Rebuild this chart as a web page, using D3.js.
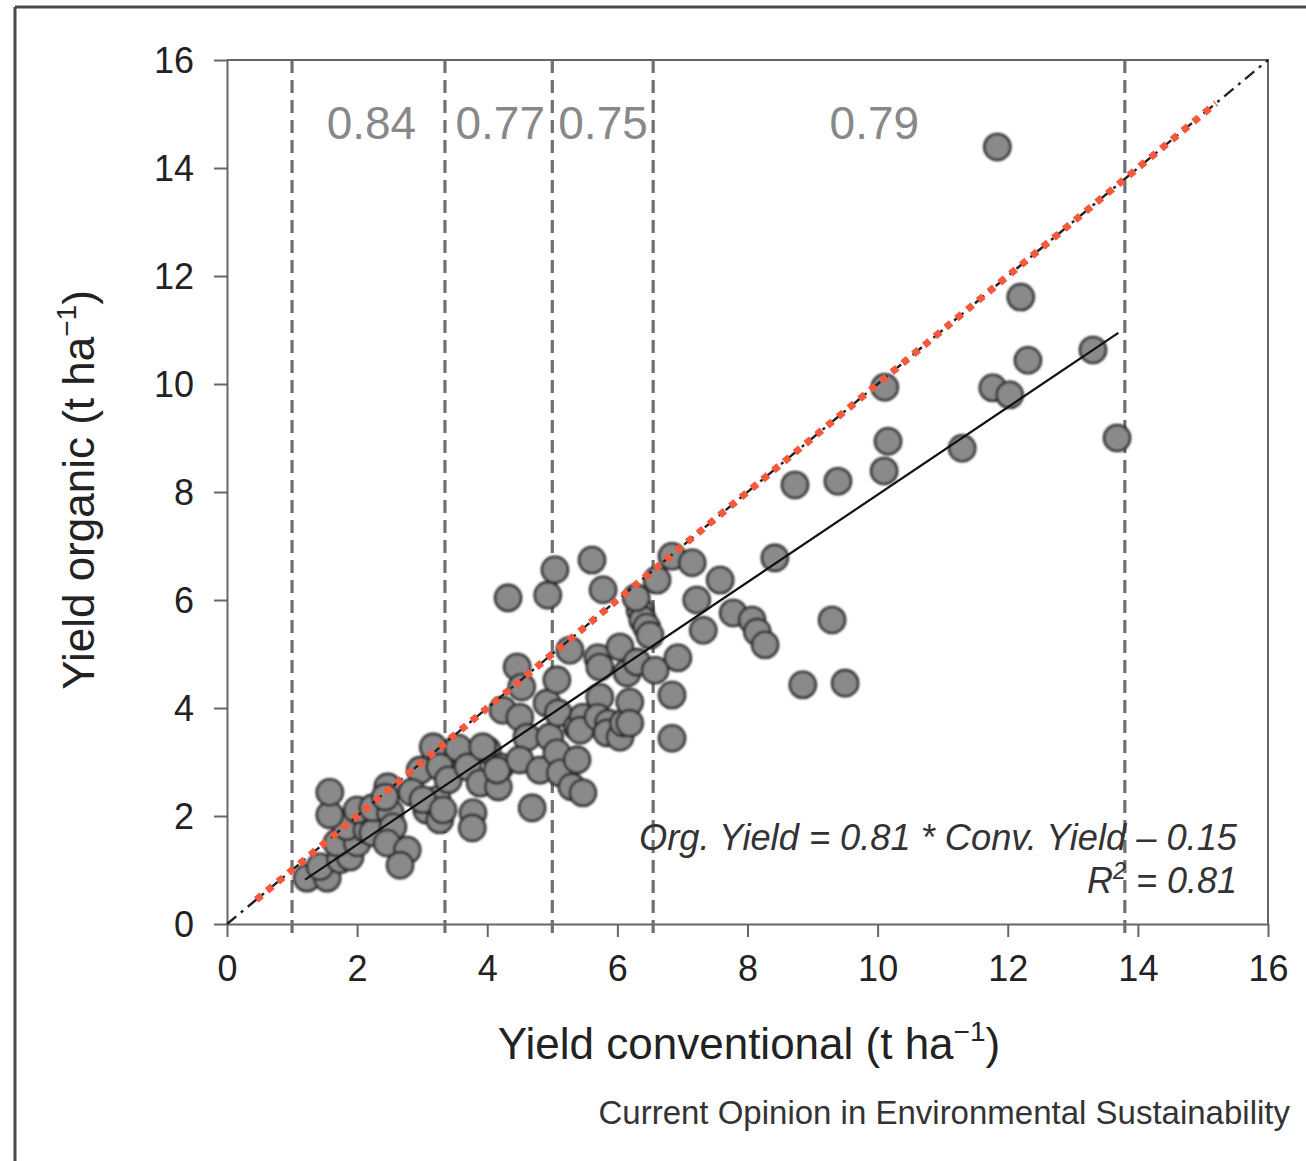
<!DOCTYPE html>
<html>
<head>
<meta charset="utf-8">
<script src="https://cdn.jsdelivr.net/npm/d3@7"></script>
<style>
  html, body { margin: 0; padding: 0; background: #fff; }
  svg { display: block; font-family: "Liberation Sans", Arial, Helvetica, sans-serif; }
</style>
</head>
<body>
<svg id="chart" width="1306" height="1161"></svg>
<script>
// ---- data ----
const conventional = [
  1.23,1.54,1.43,1.74,1.89,1.69,2.00,1.84,2.15,2.24,1.58,1.58,2.00,2.24,2.51,2.55,2.46,2.77,2.66,2.47,
  2.43,2.97,3.38,3.07,3.23,3.27,2.84,3.01,3.17,3.27,
  3.55,3.40,3.70,3.32,3.78,3.77,3.89,4.00,4.17,4.20,3.93,4.15,4.24,4.46,4.53,4.50,4.61,4.50,4.69,4.81,
  4.32,4.93,4.92,4.96,
  5.04,5.61,5.78,5.07,5.09,5.07,5.12,5.27,5.38,5.38,5.30,5.47,5.47,5.43,5.70,5.73,5.73,5.70,5.86,5.84,
  6.04,6.04,6.09,6.19,6.19,6.15,6.30,6.35,6.39,6.45,6.50,6.58,6.61,6.29,
  6.84,7.15,7.58,7.22,7.32,7.78,8.07,8.15,8.27,6.93,6.84,6.84,8.42,8.73,9.39,9.30,8.85,9.50,
  10.10,10.16,10.11,11.30,11.77,12.03,12.31,12.20,13.31,13.68,11.84
];
const organic = [
  0.85,0.85,1.06,1.19,1.24,1.50,1.50,1.80,1.74,1.69,2.02,2.44,2.11,2.15,2.06,1.80,1.50,1.37,1.09,2.54,
  2.35,2.85,2.80,2.11,2.30,1.93,2.44,2.30,3.28,2.91,
  3.26,2.67,2.91,2.11,2.06,1.78,2.61,3.22,2.54,2.91,3.28,2.85,3.96,4.76,4.39,3.83,3.46,3.04,2.15,2.85,
  6.04,6.09,4.09,3.46,
  6.56,6.74,6.19,4.52,3.91,3.17,2.80,5.07,3.65,3.04,2.54,2.43,3.83,3.59,4.93,4.76,4.20,3.83,3.72,3.54,
  5.13,3.46,3.72,4.11,3.72,4.65,4.85,5.81,5.63,5.50,5.35,4.70,6.37,6.04,
  6.81,6.69,6.37,6.00,5.44,5.76,5.63,5.41,5.17,4.93,4.24,3.44,6.78,8.13,8.20,5.63,4.43,4.46,
  8.39,8.94,9.94,8.81,9.93,9.80,10.44,11.61,10.63,9.00,14.39
];
const xTicks = [0, 2, 4, 6, 8, 10, 12, 14, 16];
const yTicks = [0, 2, 4, 6, 8, 10, 12, 14, 16];
const classBreaks = [1.0, 3.35, 5.0, 6.55, 13.8];
const classRatios = ["0.84", "0.77", "0.75", "0.79"];
const classLabelAt = [2.22, 4.2, 5.78, 9.95];
const regSlope = 0.81, regIntercept = -0.15, regRange = [1.2, 13.7];
const parityRange = [0, 16];
const redRange = [0.45, 15.2];

// ---- layout ----
const svg = d3.select("#chart");
const L = 227, R = 1268, T = 60, B = 924;
const x = d3.scaleLinear().domain([0, 16]).range([L, R]);
const y = d3.scaleLinear().domain([0, 16]).range([B, T]);

// outer figure frame
svg.append("line").attr("x1", 15).attr("x2", 1306).attr("y1", 7).attr("y2", 7)
  .attr("stroke", "#4a4a4a").attr("stroke-width", 3);
svg.append("line").attr("x1", 15).attr("x2", 15).attr("y1", 7).attr("y2", 1161)
  .attr("stroke", "#4a4a4a").attr("stroke-width", 3);

const defs = svg.append("defs");
defs.append("filter").attr("id", "soft").attr("x", "-20%").attr("y", "-20%").attr("width", "140%").attr("height", "140%")
  .append("feGaussianBlur").attr("stdDeviation", 0.9);

// plot frame (top & right)
svg.append("path")
  .attr("d", `M${L},${T}H${R}V${B}`)
  .attr("fill", "none").attr("stroke", "#666").attr("stroke-width", 2);

// axes
const xAxis = svg.append("g").attr("transform", `translate(0,${B})`)
  .call(d3.axisBottom(x).tickValues(xTicks).tickSize(13).tickSizeOuter(0).tickPadding(18).tickFormat(d3.format("d")));
const yAxis = svg.append("g").attr("transform", `translate(${L},0)`)
  .call(d3.axisLeft(y).tickValues(yTicks).tickSize(13).tickSizeOuter(0).tickPadding(20).tickFormat(d3.format("d")));
[xAxis, yAxis].forEach(g => {
  g.select(".domain").attr("stroke", "#666").attr("stroke-width", 2);
  g.selectAll(".tick line").attr("stroke", "#666").attr("stroke-width", 2);
  g.selectAll(".tick text").attr("font-size", 36).attr("fill", "#222")
    .attr("font-family", "'Liberation Sans', Arial, sans-serif");
});
yAxis.selectAll(".tick text").attr("dy", "0.36em");

// class boundary dashed lines
svg.append("g").selectAll("line").data(classBreaks).join("line")
  .attr("x1", d => x(d)).attr("x2", d => x(d))
  .attr("y1", T).attr("y2", B + 12)
  .attr("stroke", "#707070").attr("stroke-width", 3.2).attr("stroke-dasharray", "13,7");

// class ratio labels
svg.append("g").selectAll("text").data(classRatios).join("text")
  .attr("x", (d, i) => x(classLabelAt[i]))
  .attr("y", 139)
  .attr("text-anchor", "middle")
  .attr("font-size", 46).attr("fill", "#888")
  .text(d => d);

// points
svg.append("g").attr("filter", "url(#soft)")
  .selectAll("circle").data(conventional.map((c, i) => [c, organic[i]])).join("circle")
  .attr("cx", d => x(d[0])).attr("cy", d => y(d[1])).attr("r", 13)
  .attr("fill", "#8a8a8a").attr("stroke", "#2b2b2b").attr("stroke-width", 2.6);

// 1:1 line (dash-dot)
svg.append("line")
  .attr("x1", x(parityRange[0])).attr("y1", y(parityRange[0]))
  .attr("x2", x(parityRange[1])).attr("y2", y(parityRange[1]))
  .attr("stroke", "#222").attr("stroke-width", 2.4).attr("stroke-dasharray", "12,6,3,6");

// red dotted line
svg.append("line")
  .attr("x1", x(redRange[0])).attr("y1", y(redRange[0]))
  .attr("x2", x(redRange[1])).attr("y2", y(redRange[1]))
  .attr("stroke", "#f4593d").attr("stroke-width", 7).attr("stroke-dasharray", "7,7");

// regression line
svg.append("line")
  .attr("x1", x(regRange[0])).attr("y1", y(regSlope * regRange[0] + regIntercept))
  .attr("x2", x(regRange[1])).attr("y2", y(regSlope * regRange[1] + regIntercept))
  .attr("stroke", "#111").attr("stroke-width", 2.2);

// equation
const eq = svg.append("g").attr("font-style", "italic").attr("font-size", 36).attr("fill", "#333").attr("text-anchor", "end");
eq.append("text").attr("x", 1237).attr("y", 850).attr("textLength", 598).attr("lengthAdjust", "spacingAndGlyphs")
  .text("Org. Yield = 0.81 * Conv. Yield \u2013 0.15");
const r2 = eq.append("text").attr("x", 1237).attr("y", 893);
r2.append("tspan").text("R");
r2.append("tspan").attr("font-size", 23).attr("dy", -14).text("2");
r2.append("tspan").attr("dy", 14).text(" = 0.81");

// axis titles
const xt = svg.append("text").attr("x", 749).attr("y", 1059).attr("text-anchor", "middle")
  .attr("font-size", 44).attr("fill", "#222");
xt.append("tspan").text("Yield conventional (t ha");
xt.append("tspan").attr("font-size", 28).attr("dy", -18).text("\u22121");
xt.append("tspan").attr("dy", 18).text(")");

const yt = svg.append("text").attr("transform", "translate(94,490) rotate(-90)").attr("text-anchor", "middle")
  .attr("font-size", 44).attr("fill", "#222");
yt.append("tspan").text("Yield organic (t ha");
yt.append("tspan").attr("font-size", 28).attr("dy", -18).text("\u22121");
yt.append("tspan").attr("dy", 18).text(")");

// source caption
svg.append("text").attr("x", 1290).attr("y", 1124).attr("text-anchor", "end")
  .attr("font-size", 33).attr("fill", "#333")
  .text("Current Opinion in Environmental Sustainability");
</script>
</body>
</html>
